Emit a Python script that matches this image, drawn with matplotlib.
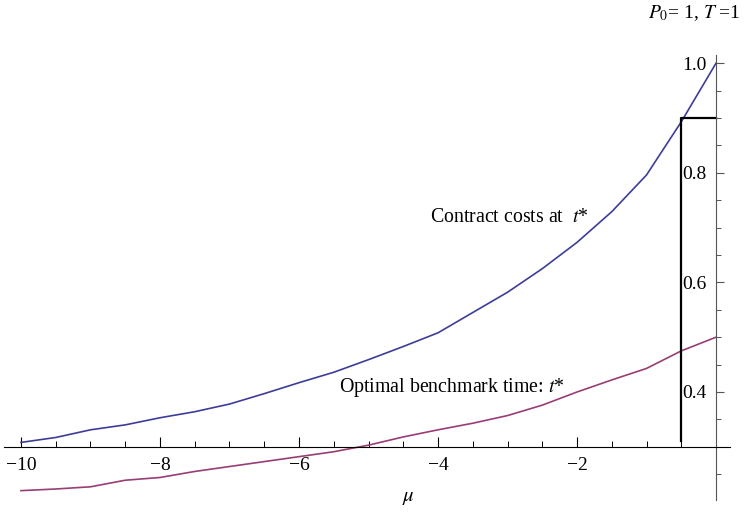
import numpy as np
import matplotlib.pyplot as plt
from matplotlib.ticker import FixedLocator

plt.rcParams["font.family"] = ["Liberation Serif", "DejaVu Serif"]
plt.rcParams["mathtext.fontset"] = "stix"

mu = [-10, -9.5, -9, -8.5, -8, -7.5, -7, -6.5, -6, -5.5, -5, -4.5, -4,
      -3.5, -3, -2.5, -2, -1.5, -1, -0.5, 0]
contract_cost = [0.308, 0.317, 0.331, 0.340, 0.353, 0.364, 0.378, 0.397,
                 0.417, 0.436, 0.459, 0.483, 0.508, 0.545, 0.582, 0.625,
                 0.673, 0.729, 0.796, 0.893, 1.0]
bench_time = [0.220, 0.223, 0.227, 0.239, 0.244, 0.255, 0.264, 0.273,
              0.282, 0.291, 0.303, 0.318, 0.331, 0.343, 0.357, 0.376,
              0.400, 0.422, 0.443, 0.475, 0.500]
mu_opt = -0.5
cost_opt = 0.9
marker_bottom = 0.31

x_major = [-10, -8, -6, -4, -2]
x_labels = ["\u221210", "\u22128", "\u22126", "\u22124", "\u22122"]
x_minor = [-10 + 0.5 * i for i in range(21)]
y_major = [0.4, 0.6, 0.8, 1.0]
y_labels = ["0.4", "0.6", "0.8", "1.0"]
y_minor = [0.25 + 0.05 * i for i in range(16)]

blue = "#3d3d99"
magenta = "#993d74"

fig = plt.figure(figsize=(7.45, 5.13), dpi=100)
ax = fig.add_axes([0, 0, 1, 1])
ax.set_xlim(-10.302, 0.417)
ax.set_ylim(0.1792, 1.1153)

ax.plot(mu, contract_cost, color=blue, lw=1.2)
ax.plot(mu, bench_time, color=magenta, lw=1.2)
ax.plot([mu_opt, mu_opt, 0], [marker_bottom, cost_opt, cost_opt], color="black", lw=1.6)

for s in ["top", "right"]:
    ax.spines[s].set_visible(False)
ax.spines["left"].set_position(("data", 0))
ax.spines["bottom"].set_position(("data", 0.3))
ax.spines["left"].set_bounds(0.203, 1.015)
ax.spines["bottom"].set_bounds(-10.24, 0.2)
ax.spines["left"].set_color("#555555")
ax.spines["bottom"].set_color("black")

ax.xaxis.set_major_locator(FixedLocator(x_major))
ax.xaxis.set_minor_locator(FixedLocator(x_minor))
ax.set_xticklabels(x_labels)
ax.yaxis.set_major_locator(FixedLocator(y_major))
ax.yaxis.set_minor_locator(FixedLocator(y_minor))
ax.set_yticklabels(y_labels)

ax.tick_params(axis="x", which="major", direction="in", length=7, width=0.8,
               labelsize=14, pad=7, color="black")
ax.tick_params(axis="x", which="minor", direction="in", length=4.5, width=0.7, color="black")
ax.tick_params(axis="y", which="major", direction="in", length=6, width=0.8,
               labelsize=14, pad=7, color="#555555")
ax.tick_params(axis="y", which="minor", direction="in", length=3.5, width=0.7, color="#555555")

ax.text(-4.115, 0.719, "Contract costs at  $t$*", fontsize=14.3, ha="left", va="center")
ax.text(-5.42, 0.409, "Optimal benchmark time: $t$*", fontsize=14.3, ha="left", va="center")
ax.text(0.35, 1.091, r"$P_{\mathit{0}}$= 1, $T$ =1", fontsize=14, ha="right", va="center")
ax.text(-4.43, 0.208, r"$\mu$", fontsize=15, ha="center", va="center")

fig.savefig("out.png", dpi=100)
